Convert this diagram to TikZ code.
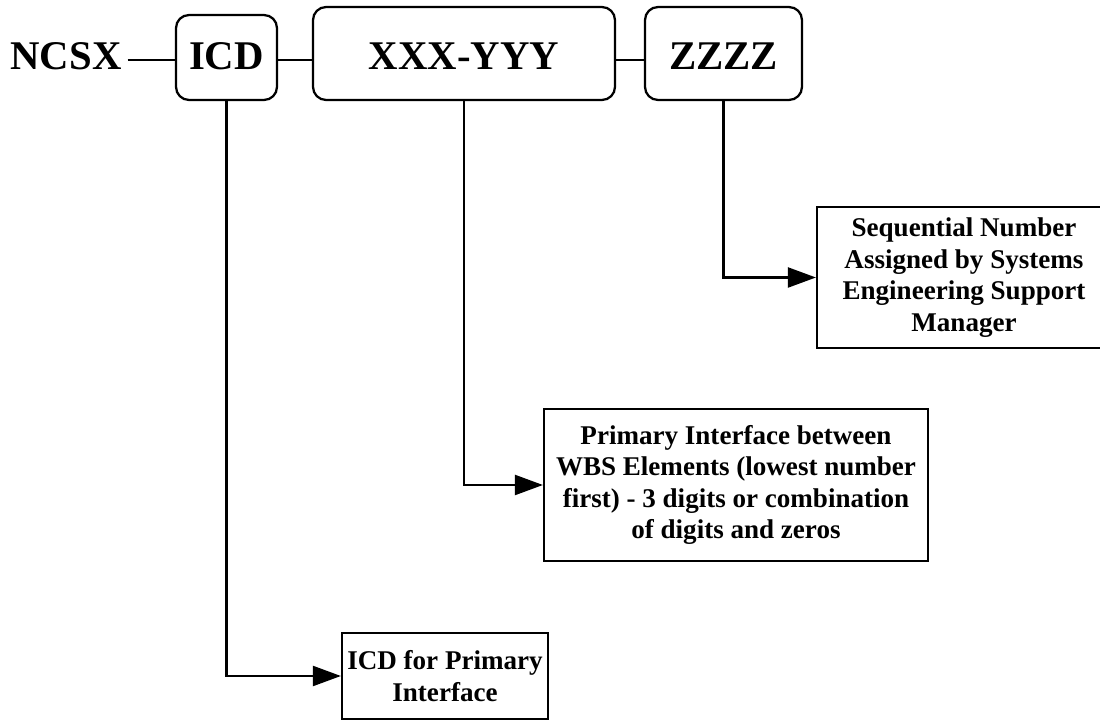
\documentclass[tikz,border=0pt]{standalone}
\usepackage{fontspec}
\setmainfont{Liberation Serif}
\usetikzlibrary{arrows.meta}
\newcommand{\pxu}{0.02cm}
\tikzset{
  bigfont/.style={font=\fontsize{23.2}{26}\selectfont\bfseries},
  topbox/.style={bigfont,draw,rounded corners=0.26cm,line width=0.045cm,inner sep=0pt,text depth=0pt},
  notebox/.style={draw,line width=0.045cm,inner sep=0pt,align=center,font=\fontsize{15.4}{17.9}\selectfont\bfseries},
  arr/.style={-{Triangle[length=0.56cm,width=0.4cm]},line width=0.045cm},
}

\begin{document}
\begin{tikzpicture}[x=\pxu,y=-\pxu]
              \useasboundingbox(0,0)rectangle(1100,722);
              \clip(0,0)rectangle(1100,722);
              \node[bigfont,anchor=base](ncsx)at(66,70){NCSX};
              \node[topbox,minimum width=2.02cm,minimum height=1.7cm,text height=0.5cm](icd)at(226.5,57.5){ICD};
              \node[topbox,minimum width=6.04cm,minimum height=1.86cm,text height=0.66cm](xxx)at(464,53.5){XXX-YYY};
              \node[topbox,minimum width=3.14cm,minimum height=1.86cm,text height=0.66cm](zzzz)at(723.5,53.5){ZZZZ};
              \node[notebox,minimum width=5.88cm,minimum height=2.82cm](seqnote)at(964,277.5){Sequential Number\\Assigned by Systems\\Engineering Support\\Manager};
              \node[notebox,minimum width=7.68cm,minimum height=3.04cm](wbsnote)at(736,485){Primary Interface between\\WBS Elements (lowest number\\first) - 3 digits or combination\\of digits and zeros};
              \node[notebox,minimum width=4.12cm,minimum height=1.72cm](icdnote)at(445,676){ICD for Primary\\Interface};
              \coordinate(row)at(0,60);
              \draw[line width=0.045cm](ncsx.east|-row)--(icd.west|-row);
              \draw[line width=0.045cm](icd.east|-row)--(xxx.west|-row);
              \draw[line width=0.045cm](xxx.east|-row)--(zzzz.west|-row);
              \draw[arr](zzzz.south)|-(seqnote.west);
              \draw[arr](xxx.south)|-(wbsnote.west);
              \draw[arr](icd.south)|-(icdnote.west);
            \end{tikzpicture}
\end{document}
